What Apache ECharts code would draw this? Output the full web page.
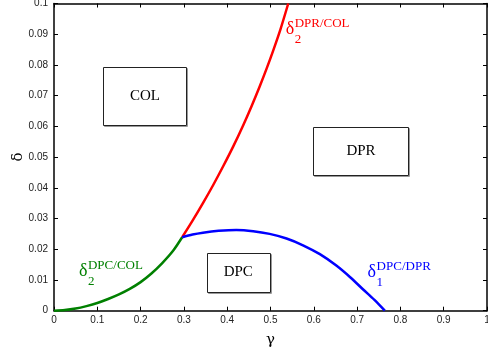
<!DOCTYPE html>
<html><head><meta charset="utf-8">
<script src="https://cdn.jsdelivr.net/npm/echarts@6/dist/echarts.min.js"></script>
<style>html,body{margin:0;padding:0;background:#fff}#c{width:488px;height:351px}</style>
</head><body><div id="c"></div>
<script>
// x ticks / y ticks
var xTicks = [0,0.1,0.2,0.3,0.4,0.5,0.6,0.7,0.8,0.9,1];
var yTicks = [0,0.01,0.02,0.03,0.04,0.05,0.06,0.07,0.08,0.09,0.1];

// delta_2^{DPC/COL} (green)
var greenGamma = [0, 0.025, 0.05, 0.075, 0.1, 0.125, 0.15, 0.175, 0.2, 0.225, 0.25, 0.275, 0.296];
var greenDelta = [0, 0.0002, 0.0007, 0.0015, 0.0025, 0.0038, 0.0053, 0.0071, 0.0093, 0.0121, 0.0155, 0.0195, 0.0239];
// delta_2^{DPR/COL} (red)
var redGamma = [0.296, 0.32, 0.344, 0.368, 0.391, 0.414, 0.437, 0.456, 0.475, 0.491, 0.506, 0.523, 0.541];
var redDelta = [0.0239, 0.0293, 0.0350, 0.0410, 0.0471, 0.0535, 0.0604, 0.0665, 0.0730, 0.0788, 0.0846, 0.0916, 0.1];
// delta_1^{DPC/DPR} (blue)
var blueGamma = [0.296, 0.32, 0.344, 0.38, 0.421, 0.46, 0.498, 0.537, 0.575, 0.614, 0.652, 0.684, 0.714, 0.74, 0.764];
var blueDelta = [0.0239, 0.0248, 0.0254, 0.0260, 0.0263, 0.0259, 0.0250, 0.0235, 0.0213, 0.0184, 0.0147, 0.0109, 0.0069, 0.0035, 0];

// region labels (centre in data coords)
var regionNames = ['COL', 'DPR', 'DPC'];
var regionGamma = [0.210, 0.709, 0.4256];
var regionDelta = [0.0699, 0.0520, 0.01244];

// curve labels: anchor (left/baseline of delta) in data coords
var curveSub = ['2', '2', '1'];
var curveSup = ['DPR/COL', 'DPC/COL', 'DPC/DPR'];
var curveGamma = [0.535, 0.0577, 0.7243];
var curveDeltaPos = [0.0888, 0.0100, 0.0097];
var curveColors = ['#ff0000', '#008000', '#0000ff'];

function zip(a, b) { return a.map(function (v, i) { return [v, b[i]]; }); }

var chart = echarts.init(document.getElementById('c'), null, {renderer: 'canvas'});
var axisFont = {fontFamily: 'Liberation Sans, Arial, sans-serif', fontSize: 10, color: '#222'};
var lineStyleAxis = {color: '#000', width: 1.5};
var tick = {show: true, inside: true, length: 4, lineStyle: {color: '#000', width: 1}};

var regionBoxSize = [[83, 58], [95, 48], [63, 39]];

chart.setOption({
  animation: false,
  grid: {left: 54, right: 1, top: 3.5, bottom: 40.3, containLabel: false, outerBoundsMode: 'none'},
  xAxis: [{
    type: 'value', min: 0, max: 1, interval: 0.1, position: 'bottom',
    axisLine: {show: true, onZero: false, lineStyle: lineStyleAxis},
    axisTick: tick,
    axisLabel: Object.assign({margin: 5}, axisFont),
    splitLine: {show: false},
    name: 'γ', nameLocation: 'middle', nameGap: 22, nameMoveOverlap: false,
    nameTextStyle: {fontFamily: 'DejaVu Serif, serif', fontSize: 15, color: '#000'}
  }, {
    type: 'value', min: 0, max: 1, interval: 0.1, position: 'top',
    axisLine: {show: true, onZero: false, lineStyle: lineStyleAxis},
    axisTick: tick, axisLabel: {show: false}, splitLine: {show: false}
  }],
  yAxis: [{
    type: 'value', min: 0, max: 0.1, interval: 0.01, position: 'left',
    axisLine: {show: true, onZero: false, lineStyle: lineStyleAxis},
    axisTick: tick,
    axisLabel: Object.assign({margin: 6}, axisFont),
    splitLine: {show: false},
    name: 'δ', nameLocation: 'middle', nameGap: 28, nameRotate: 90, nameMoveOverlap: false,
    nameTextStyle: {fontFamily: 'DejaVu Serif, serif', fontSize: 15, color: '#000'}
  }, {
    type: 'value', min: 0, max: 0.1, interval: 0.01, position: 'right',
    axisLine: {show: true, onZero: false, lineStyle: lineStyleAxis},
    axisTick: tick, axisLabel: {show: false}, splitLine: {show: false}
  }],
  series: [
    {type: 'line', data: zip(greenGamma, greenDelta), smooth: 0.3, showSymbol: false,
     lineStyle: {color: '#008000', width: 2.5}, z: 3},
    {type: 'line', data: zip(redGamma, redDelta), smooth: 0.3, showSymbol: false,
     lineStyle: {color: '#ff0000', width: 2.5}, z: 3},
    {type: 'line', data: zip(blueGamma, blueDelta), smooth: 0.3, showSymbol: false,
     lineStyle: {color: '#0000ff', width: 2.5}, z: 3}
  ]
});

var g = [];
var serif = 'Liberation Serif, Times New Roman, serif';
for (var r = 0; r < regionNames.length; r++) {
  var c = chart.convertToPixel({gridIndex: 0}, [regionGamma[r], regionDelta[r]]);
  var w = regionBoxSize[r][0], h = regionBoxSize[r][1];
  g.push({type: 'rect', z: 8, shape: {x: Math.round(c[0] - w / 2) + 1.5, y: Math.round(c[1] - h / 2) + 1.5, width: w, height: h},
    style: {fill: 'none', stroke: '#999', lineWidth: 1}});
  g.push({type: 'rect', z: 9, shape: {x: Math.round(c[0] - w / 2) + 0.5, y: Math.round(c[1] - h / 2) + 0.5, width: w, height: h},
    style: {fill: '#fff', stroke: '#222', lineWidth: 1}});
  g.push({type: 'text', z: 10, x: c[0], y: c[1],
    style: {text: regionNames[r], fill: '#000', font: '15px ' + serif, align: 'center', verticalAlign: 'middle'}});
}
for (var i = 0; i < curveSup.length; i++) {
  var p = chart.convertToPixel({gridIndex: 0}, [curveGamma[i], curveDeltaPos[i]]);
  g.push({type: 'text', x: p[0], y: p[1], z: 10,
    style: {text: 'δ', fill: curveColors[i], font: '18px ' + serif, verticalAlign: 'bottom', align: 'left'}});
  g.push({type: 'text', x: p[0] + 9, y: p[1] - 8, z: 10,
    style: {text: curveSup[i], fill: curveColors[i], font: '13px ' + serif, verticalAlign: 'bottom', align: 'left'}});
  g.push({type: 'text', x: p[0] + 9, y: p[1] + 8, z: 10,
    style: {text: curveSub[i], fill: curveColors[i], font: '13px ' + serif, verticalAlign: 'bottom', align: 'left'}});
}
chart.setOption({graphic: g});
</script>
</body></html>
